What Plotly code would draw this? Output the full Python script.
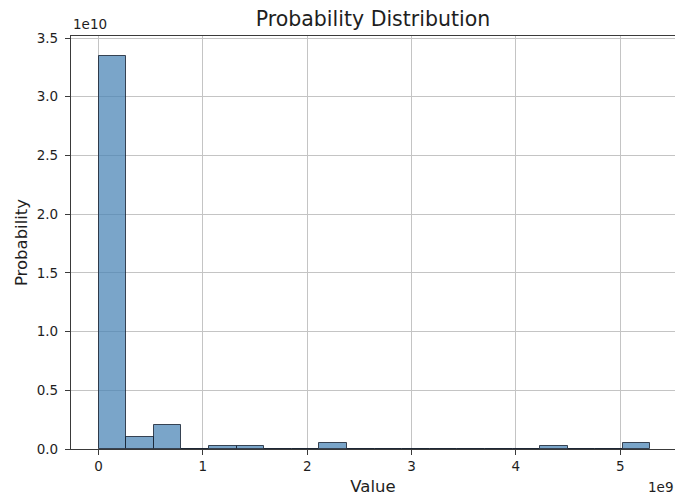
import numpy as np
import plotly.graph_objects as go

# Histogram of values: 20 equal-width bins between 0 and 5.29e9
bin_min = 0.0
bin_max = 5.29e9
n_bins = 20
probability = [
    3.35e10, 0.10e10, 0.205e10, 0.0, 0.025e10,
    0.025e10, 0.0, 0.0, 0.05e10, 0.0,
    0.0, 0.0, 0.0, 0.0, 0.0,
    0.0, 0.025e10, 0.0, 0.0, 0.05e10,
]
x_ticks = [0, 1e9, 2e9, 3e9, 4e9, 5e9]
x_tick_text = ["0", "1", "2", "3", "4", "5"]
y_ticks = [0, 0.5e10, 1.0e10, 1.5e10, 2.0e10, 2.5e10, 3.0e10, 3.5e10]
y_tick_text = ["0.0", "0.5", "1.0", "1.5", "2.0", "2.5", "3.0", "3.5"]

edges = np.linspace(bin_min, bin_max, n_bins + 1)
centers = (edges[:-1] + edges[1:]) / 2
width = edges[1] - edges[0]

FONT = "DejaVu Sans"
TEXT = "#1e1e1e"

fig = go.Figure(
    go.Bar(
        x=centers,
        y=probability,
        width=[width] * n_bins,
        marker=dict(
            color="rgba(70,130,180,0.72)",
            line=dict(color="rgba(20,30,45,0.8)", width=1),
        ),
        showlegend=False,
    )
)

axis_common = dict(
    showgrid=True,
    gridcolor="#c4c4c4",
    gridwidth=1,
    zeroline=False,
    showline=True,
    linecolor="#3a3a3a",
    linewidth=1.2,
    ticks="outside",
    ticklen=5,
    tickcolor="#3a3a3a",
    tickfont=dict(family=FONT, size=13.5, color=TEXT),
)

fig.update_layout(
    width=675,
    height=499,
    margin=dict(l=71, r=0, t=36, b=50),
    plot_bgcolor="white",
    paper_bgcolor="white",
    bargap=0,
    title=dict(
        text="Probability Distribution",
        x=373 / 675, xanchor="center",
        y=1 - 19 / 499, yanchor="middle",
        font=dict(family=FONT, size=20.5, color=TEXT),
    ),
    xaxis=dict(
        **axis_common,
        range=[-0.2645e9, 5.525e9],
        tickvals=x_ticks,
        ticktext=x_tick_text,
        mirror=True,
        title=dict(text="Value", font=dict(family=FONT, size=16.5, color=TEXT), standoff=7),
    ),
    yaxis=dict(
        **axis_common,
        range=[0, 3.5175e10],
        tickvals=y_ticks,
        ticktext=y_tick_text,
        ticklabelstandoff=4,
        title=dict(text="Probability", font=dict(family=FONT, size=16.5, color=TEXT), standoff=4),
    ),
    annotations=[
        dict(text="1e10", xref="paper", yref="paper", x=0, y=1,
             xanchor="left", yanchor="bottom", yshift=2, showarrow=False,
             font=dict(family=FONT, size=13.5, color=TEXT)),
        dict(text="1e9", xref="paper", yref="paper", x=1, y=0,
             xanchor="right", yanchor="top", yshift=-28, showarrow=False,
             font=dict(family=FONT, size=13.5, color=TEXT)),
    ],
)

fig.write_html("out.html")
